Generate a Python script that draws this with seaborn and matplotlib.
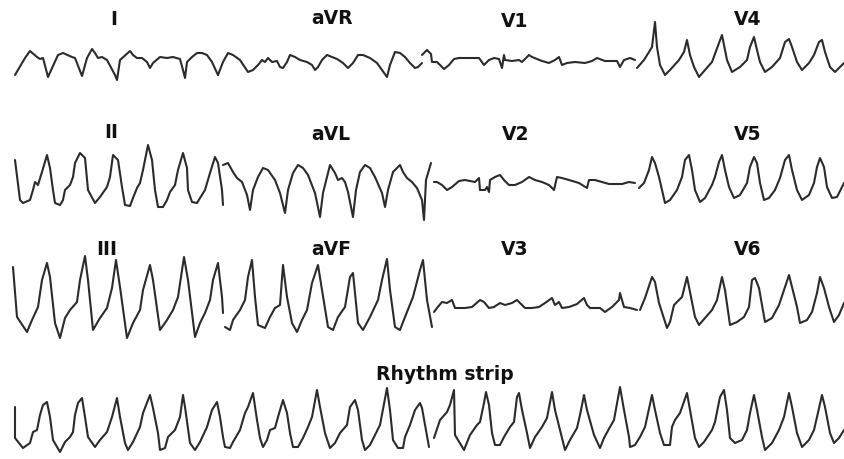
import matplotlib
matplotlib.use("Agg")
import matplotlib.pyplot as plt
import seaborn as sns

# ---- Data: waveform vertices (pixel coords: x right, y down) ----
LEAD_I = [(15,75),(25,58),(30,51),(37,57),(40,59),(43,58),(48,77),(58,55),(63,53),(72,57),(75,58),
          (82,76),(87,58),(92,49),(95,53),(98,58),(102,57),(107,60),(115,75),(117,80),(120,60),(130,51),
          (133,55),(137,58),(142,58),(147,62),(150,68),(153,63),(160,57),(167,58),(173,57),(180,59),
          (183,70),(185,78),(187,62),(192,57),(197,53),(202,53),(207,55),(212,62),(218,75)]
LEAD_AVR = [(218,75),(223,62),(228,53),(233,55),(240,60),(248,72),(253,70),(258,65),(262,60),(265,62),
            (268,58),(272,62),(277,61),(280,67),(283,68),(287,62),(290,55),(295,57),(300,60),(307,62),
            (312,65),(315,70),(318,67),(322,60),(327,55),(332,57),(337,59),(343,63),(348,68),(353,63),
            (358,55),(363,55),(370,58),(377,63),(382,70),(387,77),(390,65),(395,52),(400,53),(405,57),
            (410,63),(415,68),(418,67),(422,63)]
LEAD_V1 = [(422,55),(427,50),(431,54),(432,62),(437,62),(444,69),(449,65),(454,59),(459,58),(479,58),
           (484,65),(489,60),(494,58),(499,59),(502,68),(504,55),(505,60),(512,61),(519,60),(522,62),
           (529,55),(532,57),(537,59),(542,61),(549,63),(555,60),(559,57),(562,65),(567,63),(575,62),
           (585,63),(592,61),(597,58),(605,61),(617,61),(620,67),(624,60),(630,58),(635,60)]
LEAD_V4 = [(637,68),(644,60),(649,52),(652,47),(655,22),(657,47),(660,65),(665,75),(670,70),(679,60),
           (684,52),(687,40),(690,55),(694,67),(699,77),(705,70),(712,62),(719,43),(722,35),(724,45),
           (727,60),(732,72),(740,67),(747,60),(750,47),(754,37),(757,50),(760,62),(765,72),(772,67),
           (780,58),(785,42),(789,39),(792,47),(797,62),(802,70),(809,63),(814,55),(819,42),(822,40),
           (825,52),(830,67),(835,72),(840,67),(844,63)]

LEAD_II = [(15,160),(20,200),(23,203),(30,200),(33,190),(35,182),(38,185),(42,172),(47,155),(50,168),
           (53,190),(55,203),(60,205),(63,200),(65,190),(70,185),(73,177),(75,163),(80,153),(85,158),
           (88,190),(95,203),(100,197),(107,187),(110,177),(113,155),(118,160),(122,187),(125,205),
           (130,206),(133,198),(137,188),(140,183),(143,170),(148,145),(152,160),(155,190),(158,207),
           (163,207),(167,200),(170,192),(175,185),(178,170),(183,153),(187,168),(188,190),(192,202),
           (197,203),(200,198),(205,190),(210,173),(215,157),(218,163),(222,190),(223,205)]
LEAD_AVL = [(223,165),(228,163),(233,172),(237,178),(242,182),(247,195),(250,210),(253,190),(258,177),
            (263,168),(268,170),(275,180),(280,193),(285,213),(288,190),(293,173),(298,165),(303,168),
            (308,175),(315,193),(320,217),(323,193),(330,165),(335,173),(338,180),(342,178),(345,182),
            (348,192),(353,217),(356,190),(360,172),(365,165),(370,168),(375,177),(382,193),(385,207),
            (388,190),(393,172),(400,165),(403,172),(407,178),(412,182),(417,188),(422,200),(424,220),
            (426,180),(431,163)]
LEAD_V2 = [(434,182),(437,182),(442,185),(447,190),(452,187),(459,181),(465,180),(475,182),(479,178),
           (480,190),(485,190),(487,187),(489,192),(490,180),(495,177),(500,175),(504,180),(509,185),
           (515,185),(522,182),(529,177),(535,180),(542,182),(549,185),(554,190),(557,177),(562,178),
           (569,180),(579,183),(587,188),(589,180),(595,180),(602,182),(609,184),(622,184),(629,182),
           (635,183)]
LEAD_V5 = [(639,188),(644,183),(649,170),(652,157),(655,163),(659,177),(665,203),(670,200),(677,190),
           (682,177),(685,160),(689,155),(692,170),(695,190),(700,202),(705,198),(712,185),(715,177),
           (719,162),(722,155),(725,170),(729,187),(734,198),(740,195),(747,183),(750,167),(754,157),
           (757,163),(760,183),(764,200),(769,198),(775,190),(780,178),(785,160),(789,155),(792,170),
           (797,190),(802,200),(809,195),(814,183),(817,167),(820,158),(824,167),(827,187),(832,198),
           (837,197),(844,183)]

LEAD_III = [(13,267),(17,317),(27,332),(32,320),(38,307),(42,280),(47,263),(50,277),(55,323),(60,338),
            (65,318),(70,310),(77,302),(80,280),(85,256),(88,280),(93,330),(100,318),(107,308),(112,288),
            (116,260),(120,287),(127,338),(133,323),(140,310),(143,290),(150,265),(153,280),(160,330),
            (167,320),(173,310),(178,297),(184,257),(188,280),(195,337),(200,323),(205,313),(210,300),
            (213,280),(218,263),(222,297),(223,313)]
LEAD_AVF = [(225,327),(230,330),(233,320),(240,310),(245,300),(248,277),(252,260),(255,297),(258,325),
            (265,328),(270,317),(275,308),(280,305),(283,265),(287,297),(292,323),(297,332),(302,320),
            (307,310),(312,283),(318,265),(322,290),(328,327),(333,330),(338,317),(345,307),(350,277),
            (353,273),(358,323),(363,330),(370,317),(378,300),(382,280),(387,259),(390,290),(395,327),
            (400,330),(405,317),(413,297),(420,270),(423,260),(427,300),(432,327)]
LEAD_V3 = [(434,312),(437,308),(442,302),(447,303),(452,300),(455,308),(465,308),(472,307),(480,300),
           (484,302),(489,308),(494,307),(500,303),(505,305),(512,303),(517,300),(522,305),(525,308),
           (532,308),(539,307),(545,303),(552,298),(555,305),(559,302),(562,308),(569,307),(577,304),
           (584,298),(587,305),(590,308),(600,308),(605,312),(612,307),(619,300),(620,293),(624,307),
           (630,308),(637,310)]
LEAD_V6 = [(640,310),(645,298),(652,277),(655,282),(659,303),(667,328),(670,322),(674,305),(677,302),
           (682,297),(687,277),(690,292),(695,317),(699,325),(705,318),(712,310),(717,300),(722,277),
           (725,290),(730,325),(737,322),(744,317),(749,307),(752,280),(755,278),(759,288),(765,322),
           (772,318),(779,305),(784,290),(789,275),(792,287),(797,307),(800,323),(807,320),(812,312),
           (817,293),(820,277),(824,288),(829,307),(834,322),(839,315),(844,303)]

RHYTHM_A = [(15,407),(15,438),(23,448),(30,443),(33,432),(37,430),(40,415),(43,405),(47,402),(50,417),
            (53,440),(60,452),(65,442),(70,437),(73,432),(75,415),(78,403),(82,398),(85,417),(88,437),
            (95,447),(100,440),(107,432),(112,417),(117,398),(120,417),(125,443),(128,450),(133,442),
            (140,427),(143,413),(150,395),(153,408),(158,433),(160,450),(165,448),(168,437),(175,430),
            (180,417),(183,395),(185,407),(190,443),(195,450),(200,442),(207,427),(212,410),(217,402),
            (220,417),(223,437),(225,447),(230,448),(233,442),(240,430),(245,413),(248,407),(253,393),
            (257,420),(260,438),(263,447),(267,440),(270,430),(275,428),(278,417),(283,400),(287,413),
            (290,433),(293,447),(298,447),(303,438),(308,427),(312,417),(317,390),(320,407),(325,433),
            (330,448),(335,443),(340,433),(347,425),(350,407),(355,400),(358,410),(362,440),(365,450),
            (370,445),(375,435),(380,425),(387,388),(390,410),(393,440),(398,448),(403,448),(405,437),
            (410,425),(415,410),(420,403),(422,408),(429,447)]
RHYTHM_B = [(434,438),(440,420),(447,412),(450,405),(454,390),(455,435),(464,450),(470,435),(477,425),
            (480,422),(484,403),(486,392),(489,405),(492,433),(495,445),(500,445),(504,437),(510,427),
            (514,422),(517,397),(519,393),(522,410),(527,433),(530,448),(535,437),(542,427),(547,418),
            (552,392),(555,410),(562,438),(565,450),(570,440),(577,428),(580,415),(584,395),(587,410),
            (594,435),(600,448),(604,438),(610,427),(614,420),(620,387),(624,410),(629,437),(630,447),
            (635,445),(640,437),(645,427),(652,395),(655,410),(660,433),(664,445),(670,445),(672,427),
            (675,420),(680,413),(687,393),(690,410),(695,438),(699,447),(704,442),(712,430),(715,422),
            (720,397),(724,390),(727,410),(730,438),(735,443),(742,440),(747,430),(750,413),(754,395),
            (757,410),(762,437),(765,450),(772,443),(779,430),(784,417),(789,393),(792,407),(797,433),
            (802,447),(809,440),(814,430),(817,417),(822,395),(825,407),(830,433),(834,443),(839,438),
            (844,430)]

TRACES = [LEAD_I, LEAD_AVR, LEAD_V1, LEAD_V4, LEAD_II, LEAD_AVL, LEAD_V2, LEAD_V5,
          LEAD_III, LEAD_AVF, LEAD_V3, LEAD_V6, RHYTHM_A, RHYTHM_B]

LABELS = ["I", "aVR", "V1", "V4", "II", "aVL", "V2", "V5", "III", "aVF", "V3", "V6", "Rhythm strip"]
LABEL_X = [114, 332, 515, 748, 111, 331, 516, 748, 107, 331, 515, 748, 445]
LABEL_BASE = [25, 24, 27, 25, 138, 140, 140, 140, 255, 255, 255, 255, 380]

# ---- Plot ----
sns.set_theme(style="white")
plt.rcParams['font.family'] = ['DejaVu Sans']

fig = plt.figure(figsize=(8.44, 4.59), dpi=100)
ax = fig.add_axes([0, 0, 1, 1])
for tr in TRACES:
    xs = [p[0] for p in tr]
    ys = [p[1] for p in tr]
    sns.lineplot(x=xs, y=ys, sort=False, estimator=None, ax=ax,
                 color="#2b2b2b", linewidth=1.5)

for lab, lx, ly in zip(LABELS, LABEL_X, LABEL_BASE):
    ax.text(lx, ly, lab, ha="center", va="baseline", fontsize=13.5,
            fontweight="bold", color="#111111")

ax.set_xlim(0, 844)
ax.set_ylim(459, 0)
ax.axis("off")
fig.savefig("out.png", dpi=100, facecolor="white")
